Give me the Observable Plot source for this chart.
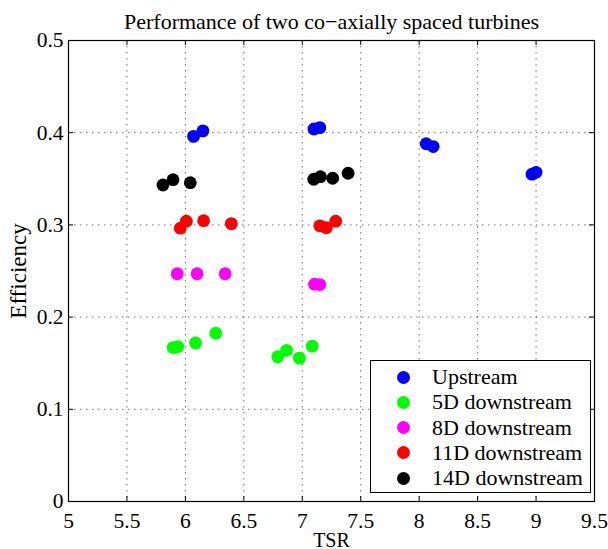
<!DOCTYPE html>
<html><head><meta charset="utf-8">
<script src="https://cdn.jsdelivr.net/npm/d3@7"></script>
<script src="https://cdn.jsdelivr.net/npm/@observablehq/plot@0.6"></script>
<style>
body{margin:0;background:#fff;}
#wrap{position:relative;width:608px;height:549px;font-family:"Liberation Serif","Times New Roman",serif;}
#legend{position:absolute;left:370px;top:360px;width:219px;height:131px;border:1.3px solid #000;background:#fff;}
.row{position:absolute;left:0;height:26px;width:219px;}
.sw{position:absolute;left:26px;top:6.5px;width:13px;height:13px;border-radius:50%;}
.lb{position:absolute;left:61px;top:0;line-height:26px;font-size:22px;white-space:nowrap;color:#000;}
</style>
</head><body>
<div id="wrap"></div>
<script>
const names = ["Upstream", "5D downstream", "8D downstream", "11D downstream", "14D downstream"];
const colors = ["#0000ff", "#00ff00", "#ff00ff", "#ff0000", "#000000"];
const upX  = [6.07, 6.15, 7.10, 7.15, 8.06, 8.12, 8.965, 9.0];
const upY  = [0.396, 0.402, 0.404, 0.4055, 0.388, 0.385, 0.355, 0.357];
const d5X  = [5.895, 5.935, 6.087, 6.26, 6.79, 6.865, 6.975, 7.085];
const d5Y  = [0.167, 0.168, 0.172, 0.1825, 0.157, 0.164, 0.1555, 0.1685];
const d8X  = [5.93, 6.10, 6.34, 7.105, 7.15];
const d8Y  = [0.247, 0.247, 0.247, 0.2357, 0.2353];
const d11X = [5.956, 6.008, 6.156, 6.393, 7.15, 7.206, 7.286];
const d11Y = [0.2964, 0.304, 0.3046, 0.3014, 0.299, 0.297, 0.304];
const d14X = [5.808, 5.894, 6.042, 7.098, 7.155, 7.26, 7.392];
const d14Y = [0.3433, 0.349, 0.3458, 0.3495, 0.3523, 0.3506, 0.356];
const xTicks = [5, 5.5, 6, 6.5, 7, 7.5, 8, 8.5, 9, 9.5];
const yTicks = [0, 0.1, 0.2, 0.3, 0.4, 0.5];
const title = "Performance of two co\u2212axially spaced turbines";
const xLabel = "TSR";
const yLabel = "Efficiency";

const seriesX = [upX, d5X, d8X, d11X, d14X];
const seriesY = [upY, d5Y, d8Y, d11Y, d14Y];
const data = names.flatMap((n, k) => seriesX[k].map((x, i) => ({tsr: x, eff: seriesY[k][i], name: n})));

const W = 608, H = 549, mL = 68, mR = 14, mT = 40, mB = 48;
const xd = [xTicks[0], xTicks[xTicks.length - 1]];
const yd = [yTicks[0], yTicks[yTicks.length - 1]];
const tickPx = 5;
const tX = tickPx * (xd[1] - xd[0]) / (W - mL - mR);
const tY = tickPx * (yd[1] - yd[0]) / (H - mT - mB);
const font = '"Liberation Serif","Times New Roman",serif';

const chart = Plot.plot({
  width: W, height: H, marginLeft: mL, marginRight: mR, marginTop: mT, marginBottom: mB,
  style: {fontFamily: font, fontSize: "21.5px", color: "#000", background: "#fff", overflow: "visible"},
  x: {domain: xd},
  y: {domain: yd},
  color: {domain: names, range: colors},
  marks: [
    Plot.ruleX(xTicks.slice(1, -1), {stroke: "#000", strokeOpacity: 0.55, strokeDasharray: "1.5,4.5"}),
    Plot.ruleY(yTicks.slice(1, -1), {stroke: "#000", strokeOpacity: 0.55, strokeDasharray: "1.5,4.5"}),
    Plot.ruleX(xTicks, {y1: yd[0], y2: yd[0] + tY, stroke: "#000"}),
    Plot.ruleX(xTicks, {y1: yd[1] - tY, y2: yd[1], stroke: "#000"}),
    Plot.ruleY(yTicks, {x1: xd[0], x2: xd[0] + tX, stroke: "#000"}),
    Plot.ruleY(yTicks, {x1: xd[1] - tX, x2: xd[1], stroke: "#000"}),
    Plot.frame({stroke: "#000", strokeWidth: 1.2}),
    Plot.dot(data, {x: "tsr", y: "eff", fill: "name", r: 6.4, stroke: null}),
    Plot.axisX({ticks: xTicks, tickSize: 0, tickPadding: 11, tickFormat: d => String(d), label: null, fontSize: 21.5}),
    Plot.axisY({ticks: yTicks, tickSize: 0, tickPadding: 5, tickFormat: d => String(d), label: null, fontSize: 21.5}),
    Plot.text([title], {frameAnchor: "top", dy: -12, lineAnchor: "bottom", fontSize: 22, text: d => d}),
    Plot.text([xLabel], {frameAnchor: "bottom", dy: 45, lineAnchor: "bottom", fontSize: 20, text: d => d}),
    Plot.text([yLabel], {frameAnchor: "left", dx: -50, rotate: -90, textAnchor: "middle", lineAnchor: "middle", fontSize: 23, text: d => d})
  ]
});
const wrap = document.getElementById("wrap");
wrap.appendChild(chart);

const legend = document.createElement("div");
legend.id = "legend";
names.forEach((n, i) => {
  const row = document.createElement("div");
  row.className = "row";
  row.style.top = (3 + i * 25.3) + "px";
  const sw = document.createElement("div");
  sw.className = "sw";
  sw.style.background = colors[i];
  const lb = document.createElement("div");
  lb.className = "lb";
  lb.textContent = n;
  row.appendChild(sw); row.appendChild(lb);
  legend.appendChild(row);
});
wrap.appendChild(legend);
</script>
</body></html>
